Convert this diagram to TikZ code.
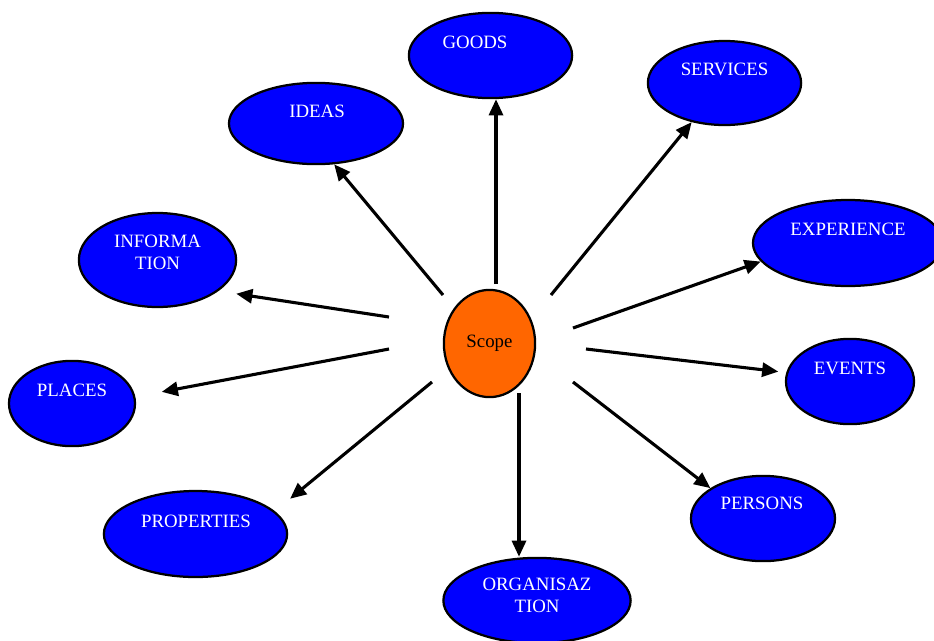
\documentclass[tikz,border=0pt]{standalone}
\usepackage{fontspec}
\setmainfont{Liberation Serif}
\usepackage{xcolor}
\usepackage{tikz}
\usetikzlibrary{arrows.meta,shapes.geometric}
\definecolor{bub}{HTML}{0000FF}
\definecolor{core}{HTML}{FF6600}
\tikzset{
  leaf/.style={ellipse, draw=black, line width=1.6pt, fill=bub, inner sep=0pt},
  hub/.style={ellipse, draw=black, line width=1.6pt, fill=core, inner sep=0pt, font=\fontsize{13.4}{15.5}\selectfont},
  lab/.style={text=white, font=\fontsize{13.4}{15.5}\selectfont, align=center, inner sep=0pt},
  arr/.style={draw=black, line width=2.2pt, -{Triangle[length=11.5pt,width=10pt]}},
}

\begin{document}
\begin{tikzpicture}[x=0.025cm, y=-0.025cm]
  \useasboundingbox (0,0) rectangle (934,640);

  % centre
  \node[hub, minimum width=2.28cm, minimum height=2.68cm] (Sc) at (489.5,343.5) {Scope};

  % outer ring
  \node[leaf, minimum width=4.08cm, minimum height=2.13cm,
        label={[lab,shift={(-15.5,-13.5)}]center:GOODS}] (Go) at (490.5,55.5) {};
  \node[leaf, minimum width=3.83cm, minimum height=2.1cm,
        label={[lab,shift={(0,-14)}]center:SERVICES}] (Se) at (724.5,83) {};
  \node[leaf, minimum width=4.35cm, minimum height=2.03cm,
        label={[lab,shift={(1,-12.5)}]center:IDEAS}] (Id) at (316,123.5) {};
  \node[leaf, minimum width=3.93cm, minimum height=2.35cm,
        label={[lab,shift={(0,-7.5)}]center:{INFORMA\\TION}}] (In) at (157.5,260) {};
  \node[leaf, minimum width=4.75cm, minimum height=2.15cm,
        label={[lab,shift={(0,-14)}]center:EXPERIENCE}] (Ex) at (848,243) {};
  \node[leaf, minimum width=3.2cm, minimum height=2.13cm,
        label={[lab,shift={(0,-13.5)}]center:EVENTS}] (Ev) at (850,381.5) {};
  \node[leaf, minimum width=3.6cm, minimum height=2.13cm,
        label={[lab,shift={(-1,-15.5)}]center:PERSONS}] (Pe) at (763,518.5) {};
  \node[leaf, minimum width=4.58cm, minimum height=2.15cm,
        label={[lab,shift={(0.5,-13)}]center:PROPERTIES}] (Pr) at (195.5,534) {};
  \node[leaf, minimum width=3.15cm, minimum height=2.13cm,
        label={[lab,shift={(0,-13.5)}]center:PLACES}] (Pl) at (72,403.5) {};
  \node[leaf, minimum width=4.68cm, minimum height=2.13cm,
        label={[lab,shift={(0,-5)}]center:{ORGANISAZ\\TION}}] (Or) at (537,600.5) {};

  % arrow starts round the hub
  \coordinate (sGo) at (496,284);
  \coordinate (sSe) at (551,295);
  \coordinate (sId) at (443,295);
  \coordinate (sIn) at (389,317);
  \coordinate (sPl) at (389,349);
  \coordinate (sEx) at (573,328);
  \coordinate (sEv) at (586,349);
  \coordinate (sPr) at (432,382);
  \coordinate (sPe) at (573,382);
  \coordinate (sOr) at (519,393);

  \draw[arr] (sGo) -- (sGo |- Go.south);
  \draw[arr] (sSe) -- (Se.230);
  \draw[arr] (sId) -- (Id.-66);
  \draw[arr, shorten >=0.45cm] (sIn) -- (In.-27);
  \draw[arr, shorten >=0.67cm] (sPl) -- (Pl.6);
  \draw[arr] (sEx) -- (Ex.192);
  \draw[arr, shorten >=0.2cm] (sEv) -- (Ev.172);
  \draw[arr, shorten >=0.49cm] (sPr) -- (Pr.16);
  \draw[arr] (sPe) -- (Pe.150);
  \draw[arr] (sOr) -- (sOr |- Or.north);
\end{tikzpicture}
\end{document}
